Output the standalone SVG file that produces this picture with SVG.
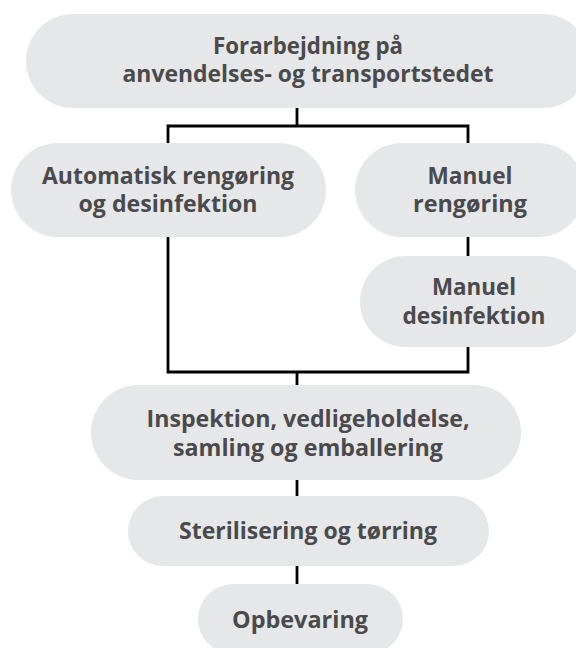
<svg xmlns="http://www.w3.org/2000/svg" width="576" height="648" viewBox="0 0 576 648">
<style>
.node{fill:#e6e7e8}
.lbl{font-family:"Open Sans","Noto Sans","Liberation Sans",sans-serif;font-weight:700;font-size:24px;fill:#4a4a4c;text-anchor:middle}
.conn{fill:none;stroke:#000;stroke-width:2.8;stroke-linecap:butt;stroke-linejoin:miter}
</style>
<rect width="576" height="648" fill="#fff"/>
<g id="connectors">
<path class="conn" d="M297 108V126M168 143V126H468V143"/>
<path class="conn" d="M468 237V256"/>
<path class="conn" d="M168 237V372H468V347M297 372V385"/>
<path class="conn" d="M297 480V496"/>
<path class="conn" d="M297 566V584"/>
</g>
<g id="forarbejdning">
<rect class="node" x="26" y="14" width="564" height="94" rx="47"/>
<text class="lbl" x="308" y="54" textLength="190" lengthAdjust="spacingAndGlyphs">Forarbejdning på</text>
<text class="lbl" x="308" y="82" textLength="371" lengthAdjust="spacingAndGlyphs">anvendelses- og transportstedet</text>
</g>
<g id="automatisk">
<rect class="node" x="11" y="143" width="315" height="94" rx="47"/>
<text class="lbl" x="168" y="183.5" textLength="252" lengthAdjust="spacingAndGlyphs">Automatisk rengøring</text>
<text class="lbl" x="168" y="212" textLength="179" lengthAdjust="spacingAndGlyphs">og desinfektion</text>
</g>
<g id="manuel-rengoring">
<rect class="node" x="355" y="143" width="230" height="94" rx="47"/>
<text class="lbl" x="470" y="183.5" textLength="85" lengthAdjust="spacingAndGlyphs">Manuel</text>
<text class="lbl" x="470" y="212" textLength="114" lengthAdjust="spacingAndGlyphs">rengøring</text>
</g>
<g id="manuel-desinfektion">
<rect class="node" x="360" y="256" width="228" height="91" rx="45.5"/>
<text class="lbl" x="474" y="295" textLength="84" lengthAdjust="spacingAndGlyphs">Manuel</text>
<text class="lbl" x="474" y="323.5" textLength="143" lengthAdjust="spacingAndGlyphs">desinfektion</text>
</g>
<g id="inspektion">
<rect class="node" x="91" y="385" width="430" height="95" rx="47.5"/>
<text class="lbl" x="308" y="427" textLength="323" lengthAdjust="spacingAndGlyphs">Inspektion, vedligeholdelse,</text>
<text class="lbl" x="308" y="455.5" textLength="270" lengthAdjust="spacingAndGlyphs">samling og emballering</text>
</g>
<g id="sterilisering">
<rect class="node" x="128" y="496" width="361" height="70" rx="35"/>
<text class="lbl" x="308" y="538.5" textLength="258" lengthAdjust="spacingAndGlyphs">Sterilisering og tørring</text>
</g>
<g id="opbevaring">
<rect class="node" x="198" y="584" width="205" height="70" rx="35"/>
<text class="lbl" x="300" y="627.5" textLength="136" lengthAdjust="spacingAndGlyphs">Opbevaring</text>
</g>
</svg>
